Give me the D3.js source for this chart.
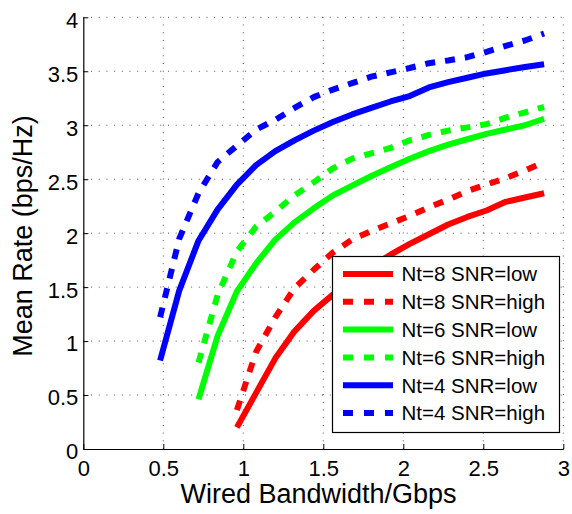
<!DOCTYPE html>
<html>
<head>
<meta charset="utf-8">
<script src="https://cdn.jsdelivr.net/npm/d3@7"></script>
<style>
  html, body { margin: 0; padding: 0; background: #fff; }
  svg { display: block; }
  text { font-family: "Liberation Sans", Arial, Helvetica, sans-serif; fill: #000; }
</style>
</head>
<body>
<svg id="chart" width="572" height="514"></svg>
<script>
// Wired bandwidth sample points (Gbps) for each antenna count
const bwNt4 = [0.48, 0.60, 0.72, 0.84, 0.96, 1.08, 1.20, 1.32, 1.44, 1.56, 1.68, 1.80, 1.92, 2.04, 2.16, 2.28, 2.40, 2.52, 2.64, 2.76, 2.88];
const bwNt6 = [0.72, 0.84, 0.96, 1.08, 1.20, 1.32, 1.44, 1.56, 1.68, 1.80, 1.92, 2.04, 2.16, 2.28, 2.40, 2.52, 2.64, 2.76, 2.88];
const bwNt8 = [0.96, 1.08, 1.20, 1.32, 1.44, 1.56, 1.68, 1.80, 1.92, 2.04, 2.16, 2.28, 2.40, 2.52, 2.64, 2.76, 2.88];

// Mean rate (bps/Hz)
const rateNt8Low  = [0.20, 0.52, 0.84, 1.09, 1.28, 1.43, 1.56, 1.69, 1.80, 1.90, 1.99, 2.08, 2.15, 2.21, 2.29, 2.33, 2.37];
const rateNt8High = [0.36, 0.90, 1.22, 1.49, 1.66, 1.82, 1.94, 2.02, 2.09, 2.16, 2.24, 2.31, 2.39, 2.45, 2.51, 2.58, 2.66];
const rateNt6Low  = [0.46, 1.05, 1.46, 1.72, 1.94, 2.10, 2.23, 2.35, 2.44, 2.53, 2.61, 2.69, 2.76, 2.82, 2.87, 2.92, 2.96, 3.00, 3.06];
const rateNt6High = [0.80, 1.43, 1.83, 2.06, 2.20, 2.35, 2.47, 2.60, 2.69, 2.74, 2.79, 2.86, 2.91, 2.95, 2.98, 3.01, 3.07, 3.12, 3.17];
const rateNt4Low  = [0.82, 1.47, 1.93, 2.22, 2.45, 2.63, 2.76, 2.86, 2.95, 3.03, 3.10, 3.16, 3.22, 3.27, 3.35, 3.40, 3.44, 3.48, 3.51, 3.54, 3.565];
const rateNt4High = [1.22, 1.95, 2.37, 2.66, 2.81, 2.96, 3.05, 3.16, 3.26, 3.33, 3.39, 3.45, 3.49, 3.53, 3.575, 3.60, 3.63, 3.68, 3.735, 3.785, 3.85];

const seriesLabels = ["Nt=8 SNR=low", "Nt=8 SNR=high", "Nt=6 SNR=low", "Nt=6 SNR=high", "Nt=4 SNR=low", "Nt=4 SNR=high"];
const xTicks = [0, 0.5, 1, 1.5, 2, 2.5, 3];
const yTicks = [0, 0.5, 1, 1.5, 2, 2.5, 3, 3.5, 4];
const xTitle = "Wired Bandwidth/Gbps";
const yTitle = "Mean Rate (bps/Hz)";

const series = [
  { label: seriesLabels[0], xs: bwNt8, ys: rateNt8Low,  color: "#ff0000", dashed: false },
  { label: seriesLabels[1], xs: bwNt8, ys: rateNt8High, color: "#ff0000", dashed: true },
  { label: seriesLabels[2], xs: bwNt6, ys: rateNt6Low,  color: "#00ff00", dashed: false },
  { label: seriesLabels[3], xs: bwNt6, ys: rateNt6High, color: "#00ff00", dashed: true },
  { label: seriesLabels[4], xs: bwNt4, ys: rateNt4Low,  color: "#0000ff", dashed: false },
  { label: seriesLabels[5], xs: bwNt4, ys: rateNt4High, color: "#0000ff", dashed: true }
];

const svg = d3.select("#chart");
const plotL = 83.3, plotR = 563.3, plotT = 17.3, plotB = 449;
const x = d3.scaleLinear().domain([0, 3]).range([plotL, plotR]);
const y = d3.scaleLinear().domain([0, 4]).range([plotB, plotT]);

const dashPattern = "10,10";
const lineWidth = 6;

// dotted grid
const grid = svg.append("g");
grid.selectAll("line.gx").data(xTicks.slice(1)).join("line")
  .attr("x1", d => x(d)).attr("x2", d => x(d))
  .attr("y1", plotB).attr("y2", plotT)
  .attr("stroke", "#555").attr("stroke-width", 1).attr("stroke-dasharray", "1,6.7");
grid.selectAll("line.gy").data(yTicks.slice(1)).join("line")
  .attr("x1", plotL).attr("x2", plotR)
  .attr("y1", d => y(d)).attr("y2", d => y(d))
  .attr("stroke", "#555").attr("stroke-width", 1).attr("stroke-dasharray", "1,6.7");

// axes (left and bottom only, ticks pointing inward)
const xAxis = d3.axisBottom(x).tickValues(xTicks).tickSizeInner(-5).tickSizeOuter(0)
  .tickPadding(11.5).tickFormat(d3.format("~g"));
const yAxis = d3.axisLeft(y).tickValues(yTicks).tickSizeInner(-5).tickSizeOuter(0)
  .tickPadding(5).tickFormat(d3.format("~g"));

const gx = svg.append("g").attr("transform", `translate(0,${plotB})`).call(xAxis);
const gy = svg.append("g").attr("transform", `translate(${plotL},0)`).call(yAxis);
[gx, gy].forEach(g => {
  g.select(".domain").attr("stroke", "#000").attr("stroke-width", 1.2);
  g.selectAll(".tick line").attr("stroke", "#000").attr("stroke-width", 1);
  g.selectAll(".tick text").attr("font-size", 22)
    .attr("font-family", "'Liberation Sans', Arial, Helvetica, sans-serif").attr("fill", "#000");
});
gy.selectAll(".tick text").attr("dy", "0.45em");

// curves
const line = d3.line().x(d => x(d[0])).y(d => y(d[1])).curve(d3.curveLinear);
svg.append("g").selectAll("path").data(series).join("path")
  .attr("d", s => line(s.xs.map((v, i) => [v, s.ys[i]])))
  .attr("fill", "none")
  .attr("stroke", s => s.color)
  .attr("stroke-width", lineWidth)
  .attr("stroke-linejoin", "round")
  .attr("stroke-linecap", "butt")
  .attr("stroke-dasharray", s => s.dashed ? dashPattern : null);

// axis titles
svg.append("text").attr("x", 318.5).attr("y", 503).attr("text-anchor", "middle")
  .attr("font-size", 27).text(xTitle);
svg.append("text").attr("transform", "translate(32,236) rotate(-90)").attr("text-anchor", "middle")
  .attr("font-size", 27).text(yTitle);

// legend
const lg = svg.append("g");
lg.append("rect").attr("x", 332.5).attr("y", 256.5).attr("width", 227).attr("height", 176)
  .attr("fill", "#fff").attr("stroke", "#000").attr("stroke-width", 1.2);
const rowY = d3.scaleLinear().domain([0, 5]).range([274, 413]);
const rows = lg.selectAll("g.row").data(series).join("g")
  .attr("transform", (s, i) => `translate(0,${rowY(i)})`);
rows.append("line").attr("x1", 343).attr("x2", 393).attr("y1", 0).attr("y2", 0)
  .attr("stroke", s => s.color).attr("stroke-width", lineWidth)
  .attr("stroke-dasharray", s => s.dashed ? "10,11" : null);
rows.append("text").attr("x", 401.5).attr("y", 0).attr("dy", "0.36em")
  .attr("font-size", 20.5).text(s => s.label);
</script>
</body>
</html>
